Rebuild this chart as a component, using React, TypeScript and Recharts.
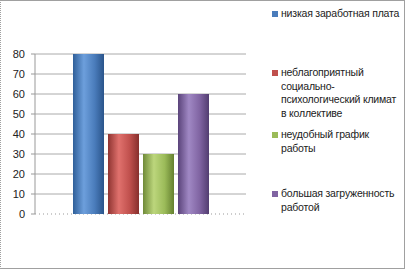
import { Bar, BarChart, ReferenceLine, XAxis, YAxis } from "recharts";

const categories = [""];
const seriesNames = [
  "низкая заработная плата",
  "неблагоприятный социально-психологический климат в коллективе",
  "неудобный график работы",
  "большая загруженность работой",
];
const seriesKeys = ["low", "climate", "schedule", "workload"];
const seriesValues = [80, 40, 30, 60];
const yTicks = [0, 10, 20, 30, 40, 50, 60, 70, 80];

const colors = [
  ["#2f5f99", "#6d9fdc", "#4a7cbb", "#2a548a"],
  ["#8f3431", "#e0716d", "#c0504d", "#862f2c"],
  ["#6f8a38", "#bcd67c", "#9bbb59", "#64802f"],
  ["#5a437a", "#a088c4", "#8064a2", "#523d70"],
];

const data = categories.map((name) => {
  const row: Record<string, string | number> = { name };
  seriesKeys.forEach((k, i) => (row[k] = seriesValues[i]));
  return row;
});

// legend item tops, relative to legend box
const legendTops = [0, 59, 121, 180];

const ChartLegend = () => (
  <div style={{ position: "absolute", left: 272, top: 7, width: 132 }}>
    {seriesNames.map((n, i) => (
      <div
        key={n}
        style={{
          position: "absolute",
          top: legendTops[i],
          left: 0,
          display: "flex",
          alignItems: "flex-start",
        }}
      >
        <div
          style={{
            width: 6,
            height: 6,
            marginTop: 4,
            marginRight: 3,
            background: colors[i][2],
          }}
        />
        <div
          style={{
            width: 122,
            fontFamily: "Liberation Sans, Arial, sans-serif",
            fontSize: 10.5,
            letterSpacing: -0.2,
            lineHeight: "13.7px",
            color: "#222",
          }}
        >
          {n}
        </div>
      </div>
    ))}
  </div>
);

const yMax = yTicks[yTicks.length - 1];

const App = () => {
  return (
    <div style={{ position: "relative", width: 405, height: 269 }}>
      <style>{`body{margin:0}`}</style>
      <BarChart
        width={405}
        height={269}
        data={data}
        margin={{ top: 54, right: 159, left: 0, bottom: 55 }}
        barSize={31}
        barGap={4}
      >
        <defs>
          {colors.map((c, i) => (
            <linearGradient key={i} id={`g${i}`} x1="0" y1="0" x2="1" y2="0">
              <stop offset="0%" stopColor={c[0]} />
              <stop offset="35%" stopColor={c[1]} />
              <stop offset="70%" stopColor={c[2]} />
              <stop offset="100%" stopColor={c[3]} />
            </linearGradient>
          ))}
        </defs>
        <XAxis dataKey="name" height={0} tick={false} tickLine={false} axisLine={false} />
        <YAxis
          width={35}
          domain={[0, yMax]}
          ticks={yTicks}
          interval={0}
          tickSize={4}
          tickMargin={6}
          axisLine={{ stroke: "#999" }}
          tickLine={{ stroke: "#999" }}
          tick={{ fill: "#222", fontSize: 11, fontFamily: "Liberation Sans, Arial, sans-serif" }}
        />
        {/* gridlines behind the bars; the baseline is dotted */}
        {yTicks.map((v) => (
          <ReferenceLine
            key={v}
            y={v}
            zIndex={-100}
            stroke={v === 0 ? "#999" : "#aaaaaa"}
            strokeDasharray={v === 0 ? "1 3" : undefined}
          />
        ))}
        {seriesKeys.map((k, i) => (
          <Bar key={k} dataKey={k} name={seriesNames[i]} fill={`url(#g${i})`} isAnimationActive={false} />
        ))}
      </BarChart>
      <ChartLegend />
      <div
        style={{
          position: "absolute",
          left: 0,
          top: 0,
          width: 405,
          height: 269,
          boxSizing: "border-box",
          border: "1px solid #a0a0a0",
          borderLeft: "1px dotted #a0a0a0",
          pointerEvents: "none",
        }}
      />
    </div>
  );
};

export default App;
